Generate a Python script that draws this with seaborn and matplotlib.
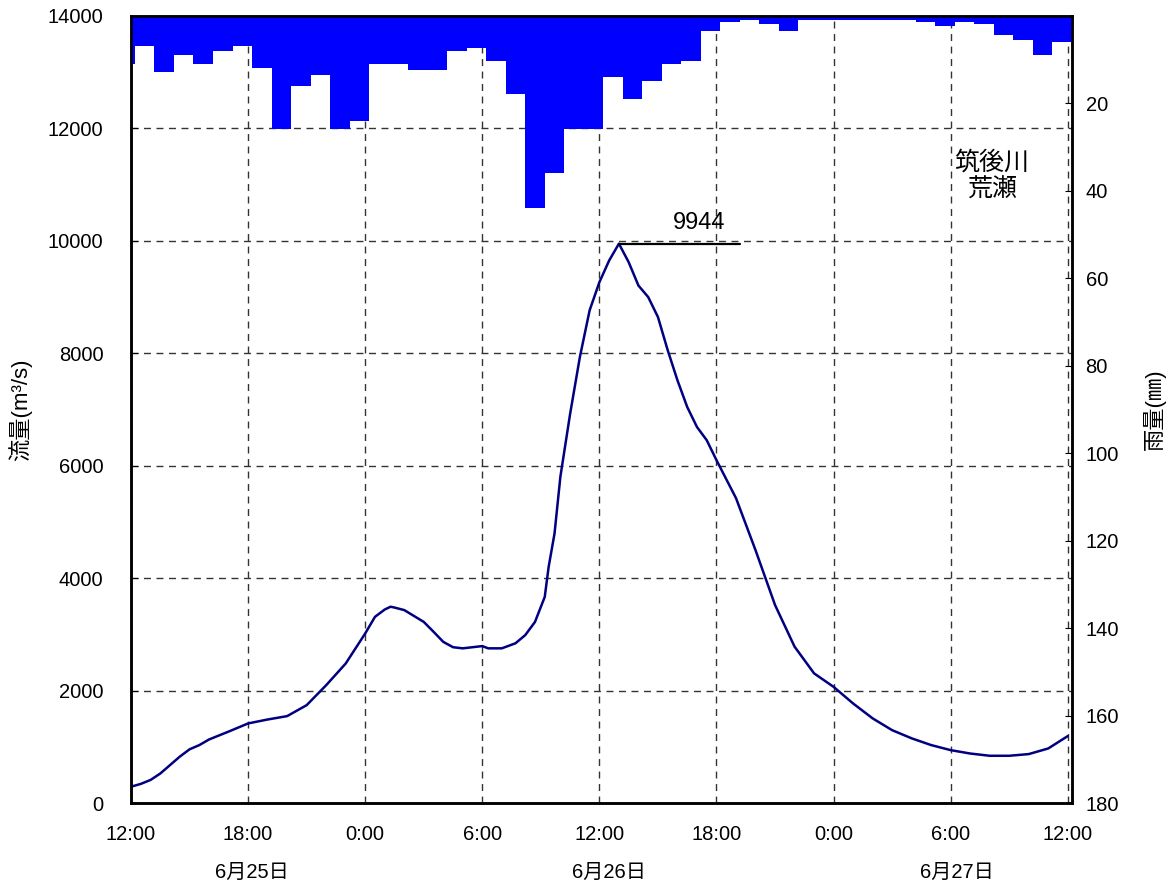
import numpy as np
import pandas as pd
import seaborn as sns
import matplotlib
matplotlib.use("Agg")
import matplotlib.pyplot as plt
from matplotlib.ticker import MultipleLocator

# hours after 6/25 12:00
flow_hours = [0, 0.5, 1, 1.5, 2, 2.5, 3, 3.5, 4, 5, 6, 7, 8, 9, 10, 11, 12, 12.5, 13, 13.3, 13.5,
              14, 15, 15.5, 16, 16.5, 17, 18, 18.3, 19, 19.7, 20.2, 20.7, 21.2, 21.4, 21.7, 22,
              22.5, 23, 23.5, 24, 24.5, 25, 25.5, 26, 26.5, 27, 27.5, 28, 28.5, 29, 29.5, 30,
              31, 32, 33, 34, 35, 36, 37, 38, 39, 40, 41, 42, 43, 44, 45, 46, 47, 48]
flow_values = [290, 340, 410, 525, 675, 825, 955, 1030, 1130, 1270, 1415, 1485, 1545, 1740, 2095,
               2480, 3015, 3310, 3440, 3490, 3475, 3430, 3220, 3045, 2865, 2770, 2750, 2790, 2750,
               2750, 2840, 2985, 3220, 3665, 4200, 4790, 5800, 6920, 7930, 8760, 9260, 9645, 9944,
               9615, 9200, 8995, 8640, 8050, 7515, 7040, 6685, 6450, 6095, 5420, 4495, 3520, 2780,
               2305, 2065, 1770, 1505, 1295, 1150, 1030, 940, 880, 840, 840, 870, 970, 1190]

# hourly rainfall (mm), bar k covers hour k+0.2 .. k+1.2
rain_start = list(range(-1, 48))
rain_mm = [11, 7, 13, 9, 11, 8, 7, 12, 26, 16, 13.5, 26, 24, 11, 11, 12.5, 12.5, 8, 7.5, 10.5,
           18, 44, 36, 26, 26, 14, 19, 15, 11, 10.5, 3.5, 1.5, 1, 2, 3.5, 1, 1, 1, 1, 1, 1,
           1.5, 2.5, 1.5, 2, 4.5, 5.5, 9, 6]

time_labels = ['12:00', '18:00', '0:00', '6:00', '12:00', '18:00', '0:00', '6:00', '12:00']
date_labels = ['6月25日', '6月26日', '6月27日']
date_pos = [6.2, 24.5, 42.3]
station = '筑後川\n荒瀬'

sns.set_style("white")
plt.rcParams['font.family'] = ['Liberation Sans', 'Noto Sans CJK JP', 'DejaVu Sans']
plt.rcParams.update({'text.color': 'black', 'axes.labelcolor': 'black',
                     'xtick.color': 'black', 'ytick.color': 'black'})

df_flow = pd.DataFrame({'hour': flow_hours, 'flow': flow_values})
df_rain = pd.DataFrame({'center': [h + 0.7 for h in rain_start], 'rain': rain_mm})

fig = plt.figure(figsize=(11.72, 8.88), dpi=100)
ax = fig.add_axes([0.1118, 0.0957, 0.8026, 0.8868])

sns.lineplot(data=df_flow, x='hour', y='flow', ax=ax, color='#000080', lw=1.8)

ax.set_xlim(0, 48.2)
ax.set_ylim(0, 14000)
ax.set_xticks(range(0, 49, 6))
ax.set_xticklabels(time_labels, fontsize=14.5)
ax.xaxis.set_minor_locator(MultipleLocator(3))
ax.set_yticks(range(0, 14001, 2000))
ax.set_yticklabels([str(v) for v in range(0, 14001, 2000)], fontsize=14.5)
ax.tick_params(axis='x', which='major', direction='in', length=6, pad=16, width=1)
ax.tick_params(axis='x', which='minor', direction='in', length=3, width=1)
ax.tick_params(axis='y', direction='in', length=5, pad=20)
ax.grid(True, which='major', color='#333333', lw=1, ls=(0, (5, 4)))
ax.set_xlabel('')
ax.set_ylabel('流量(m³/s)', fontsize=16)
ax.yaxis.set_label_coords(-0.105, 0.5)

# peak annotation
ipk = int(np.argmax(flow_values))
tpk, qpk = flow_hours[ipk], flow_values[ipk]
ax.plot([tpk, tpk + 6.2], [qpk, qpk], color='black', lw=1.6)
ax.text(tpk + 4.1, qpk + 180, f'{qpk:.0f}', fontsize=17, ha='center', va='bottom')

ax.text(44.1, 11150, station, fontsize=18, ha='center', va='center', linespacing=1.15)

for pos, lab in zip(date_pos, date_labels):
    ax.text(pos, -0.088, lab, transform=ax.get_xaxis_transform(), fontsize=14.5,
            ha='center', va='center')

ax2 = ax.twinx()
sns.barplot(data=df_rain, x='center', y='rain', ax=ax2, native_scale=True, width=1,
            color='#0000FF', saturation=1, linewidth=0, orient='x')
ax2.set_xlim(0, 48.2)
ax2.set_ylim(180, 0)
ax2.set_yticks(range(20, 181, 20))
ax2.set_yticklabels([str(v) for v in range(20, 181, 20)], fontsize=14.5)
ax2.tick_params(axis='y', direction='in', length=5, pad=10)
ax2.set_xlabel('')
ax2.set_ylabel('雨量(㎜)', fontsize=16)
ax2.yaxis.set_label_coords(1.076, 0.5)

for a in (ax, ax2):
    for s in a.spines.values():
        s.set_linewidth(1.8)
        s.set_color('black')

fig.savefig('out.png', dpi=100)
